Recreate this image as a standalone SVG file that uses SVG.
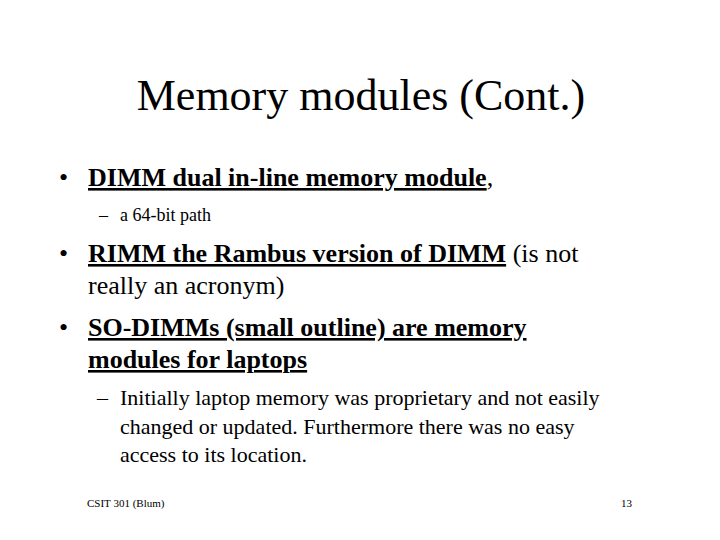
<svg xmlns="http://www.w3.org/2000/svg" width="720" height="540" viewBox="0 0 720 540">
<style>
text{font-family:"Liberation Serif","Times New Roman",serif;fill:#000}
.b{font-weight:bold;text-decoration:underline}
.l1{font-size:26px}
.s1{font-size:18px}
.s2{font-size:22px}
</style>
<rect width="720" height="540" fill="#fff"/>
<text x="361" y="110" font-size="44" text-anchor="middle">Memory modules (Cont.)</text>
<text class="l1" x="59" y="186">•</text>
<text class="l1" x="88" y="186"><tspan class="b">DIMM dual in-line memory module</tspan>,</text>
<text class="s1" x="99" y="221">–</text>
<text class="s1" x="120" y="221">a 64-bit path</text>
<text class="l1" x="59" y="262">•</text>
<text class="l1" x="88" y="262"><tspan class="b">RIMM the Rambus version of DIMM</tspan> (is not</text>
<text class="l1" x="88" y="294">really an acronym)</text>
<text class="l1" x="59" y="336">•</text>
<text class="l1" x="88" y="336"><tspan class="b">SO-DIMMs (small outline) are memory</tspan></text>
<text class="l1" x="88" y="368"><tspan class="b">modules for laptops</tspan></text>
<text class="s2" x="97" y="405">–</text>
<text class="s2" x="120" y="405">Initially laptop memory was proprietary and not easily</text>
<text class="s2" x="120" y="434">changed or updated.  Furthermore there was no easy</text>
<text class="s2" x="120" y="462">access to its location.</text>
<text x="87" y="507" font-size="11">CSIT 301 (Blum)</text>
<text x="632" y="507" font-size="11" text-anchor="end">13</text>
</svg>
